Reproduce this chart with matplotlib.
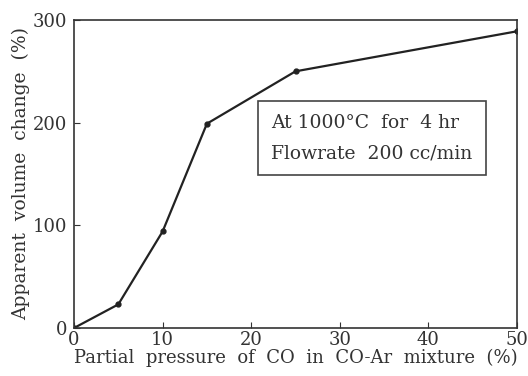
import matplotlib
matplotlib.use("Agg")
import matplotlib.pyplot as plt

matplotlib.rcParams.update({"font.family": "DejaVu Serif"})

pressure = [0, 5, 10, 15, 25, 50]
volume_change = [0, 23, 94, 199, 250, 289]
x_ticks = [0, 10, 20, 30, 40, 50]
y_ticks = [0, 100, 200, 300]

fig = plt.figure(figsize=(5.28, 3.76), dpi=100)
ax = fig.add_axes([74 / 528, 48 / 376, 443 / 528, 308 / 376])

ax.plot(pressure, volume_change, color="#222222", lw=1.6, marker="o", ms=3.5)
ax.set_xlim(0, 50)
ax.set_ylim(0, 300)
ax.set_xticks(x_ticks)
ax.set_yticks(y_ticks)
ax.tick_params(direction="in", length=4, labelsize=13, colors="#333333")
ax.tick_params(axis="x", pad=2)
ax.tick_params(axis="y", pad=5)
for s in ax.spines.values():
    s.set_color("#333333")
    s.set_linewidth(1.2)

ax.set_xlabel("Partial  pressure  of  CO  in  CO-Ar  mixture  (%)", fontsize=13,
              color="#333333", labelpad=0)
ax.set_ylabel("Apparent  volume  change  (%)", fontsize=13.5, color="#333333", labelpad=2)

ax.text(0.445, 0.617, "At 1000°C  for  4 hr\nFlowrate  200 cc/min", transform=ax.transAxes,
        fontsize=13.5, color="#333333", linespacing=1.9, va="center",
        bbox=dict(boxstyle="square,pad=0.7", fc="white", ec="#444444", lw=1.2))

fig.savefig("out.png", dpi=100)
